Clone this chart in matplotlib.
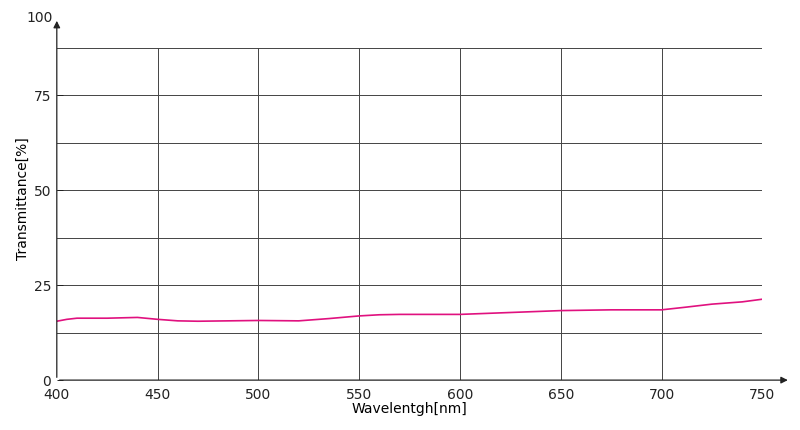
import matplotlib
matplotlib.use("Agg")
import matplotlib.pyplot as plt

wavelength = [400, 405, 410, 425, 440, 450, 460, 470, 500, 520, 535, 550, 560, 570, 600, 625, 650, 675, 700, 712, 725, 740, 750]
transmittance = [15.5, 16.0, 16.3, 16.3, 16.5, 16.0, 15.6, 15.5, 15.7, 15.6, 16.2, 16.9, 17.2, 17.3, 17.3, 17.8, 18.3, 18.5, 18.5, 19.2, 20.0, 20.6, 21.3]

x_ticks = [400, 450, 500, 550, 600, 650, 700, 750]
y_ticks = [0, 25, 50, 75]
y_grid = [12.5, 25, 37.5, 50, 62.5, 75, 87.5]
y_top = 95.3

fig = plt.figure(figsize=(8, 4.3), dpi=100)
ax = fig.add_axes([0.071, 0.116, 0.882, 0.842])
ax.set_xlim(400, 750)
ax.set_ylim(0, y_top)
for s in ax.spines.values():
    s.set_visible(False)

for g in y_grid:
    ax.plot([400, 750], [g, g], color="#444444", lw=0.7, zorder=1)
for xv in x_ticks[1:]:
    ax.plot([xv, xv], [0, 87.5], color="#444444", lw=0.7, zorder=1)

ax.plot(wavelength, transmittance, color="#e0117f", lw=1.2, zorder=3)

ax.annotate("", xy=(764, 0), xytext=(400, 0), annotation_clip=False,
            arrowprops=dict(arrowstyle="-|>", color="#222222", lw=0.9, mutation_scale=10))
ax.annotate("", xy=(400, y_top), xytext=(400, 0), annotation_clip=False,
            arrowprops=dict(arrowstyle="-|>", color="#222222", lw=0.9, mutation_scale=10))

ax.set_xticks(x_ticks)
ax.set_yticks(y_ticks)
ax.tick_params(axis="x", length=0, pad=6, labelsize=10, colors="#222222")
ax.tick_params(axis="y", length=4, width=0.7, direction="in", pad=4, labelsize=10, colors="#222222")
ax.text(398, y_top, "100", ha="right", va="center", fontsize=10, color="#222222")

ax.set_xlabel("Wavelentgh[nm]", fontsize=10, labelpad=0)
ax.set_ylabel("Transmittance[%]", fontsize=10, labelpad=3)

fig.savefig("out.png", dpi=100)
